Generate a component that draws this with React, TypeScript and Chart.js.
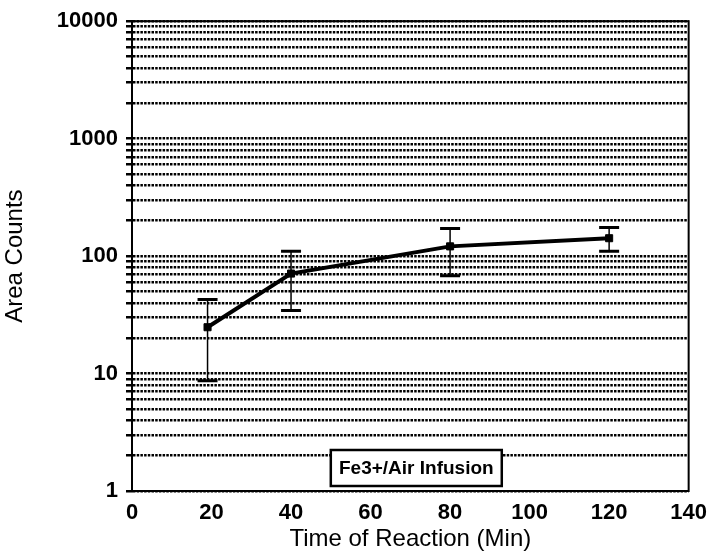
import React, { useEffect, useRef } from "react";
import { Chart, registerables } from "chart.js";

Chart.register(...registerables);

// ---- data ----
const seriesLabel = "Fe3+/Air Infusion";
const timeMin = [19, 40, 80, 120];
const areaCounts = [24.8, 71, 121, 142];
const errUpper = [42.7, 110, 172, 175];
const errLower = [8.7, 34.5, 68, 110];

const xTickValues = [0, 20, 40, 60, 80, 100, 120, 140];
const yLabelValues = [1, 10, 100, 1000, 10000];
const yGridValues = [
  1, 2, 3, 4, 5, 6, 7, 8, 9,
  10, 20, 30, 40, 50, 60, 70, 80, 90,
  100, 200, 300, 400, 500, 600, 700, 800, 900,
  1000, 2000, 3000, 4000, 5000, 6000, 7000, 8000, 9000,
  10000,
];
const xTitle = "Time of Reaction (Min)";
const yTitle = "Area Counts";

const FONT = "'Liberation Sans', Arial, Helvetica, sans-serif";

const errorBarPlugin = {
  id: "errorBars",
  afterDatasetsDraw(chart: any) {
    const { ctx } = chart;
    const xs = chart.scales.x;
    const ys = chart.scales.y;
    ctx.save();
    ctx.strokeStyle = "#000";
    for (let i = 0; i < timeMin.length; i++) {
      const px = xs.getPixelForValue(timeMin[i]);
      const pTop = ys.getPixelForValue(errUpper[i]);
      const pBot = ys.getPixelForValue(errLower[i]);
      ctx.lineWidth = 1.5;
      ctx.beginPath();
      ctx.moveTo(px, pTop);
      ctx.lineTo(px, pBot);
      ctx.stroke();
      ctx.lineWidth = 3;
      ctx.beginPath();
      ctx.moveTo(px - 10, pTop);
      ctx.lineTo(px + 10, pTop);
      ctx.moveTo(px - 10, pBot);
      ctx.lineTo(px + 10, pBot);
      ctx.stroke();
    }
    ctx.restore();
  },
};

const framePlugin = {
  id: "frameAndLegend",
  beforeDatasetsDraw(chart: any) {
    const { ctx, chartArea } = chart;
    ctx.save();
    ctx.strokeStyle = "#000";
    ctx.lineWidth = 2;
    ctx.strokeRect(
      chartArea.left,
      chartArea.top,
      chartArea.right - chartArea.left,
      chartArea.bottom - chartArea.top
    );
    // legend box
    const xs = chart.scales.x;
    const left = xs.getPixelForValue(50);
    const right = xs.getPixelForValue(93);
    const bottom = chartArea.bottom - 5;
    const top = bottom - 36;
    ctx.fillStyle = "#fff";
    ctx.fillRect(left, top, right - left, bottom - top);
    ctx.lineWidth = 2.5;
    ctx.strokeRect(left, top, right - left, bottom - top);
    ctx.fillStyle = "#000";
    ctx.font = `bold 19px ${FONT}`;
    ctx.textAlign = "center";
    ctx.textBaseline = "middle";
    ctx.fillText(seriesLabel, (left + right) / 2, (top + bottom) / 2 + 1);
    ctx.restore();
  },
};

export default function App() {
  const canvasRef = useRef<HTMLCanvasElement | null>(null);

  useEffect(() => {
    if (!canvasRef.current) return;
    const chart = new Chart(canvasRef.current, {
      type: "line",
      data: {
        datasets: [
          {
            label: seriesLabel,
            data: timeMin.map((t, i) => ({ x: t, y: areaCounts[i] })),
            borderColor: "#000",
            backgroundColor: "#000",
            borderWidth: 4,
            pointStyle: "rect",
            pointRadius: 5,
            pointBorderWidth: 1,
            tension: 0,
          },
        ],
      },
      options: {
        animation: false,
        responsive: false,
        maintainAspectRatio: false,
        layout: { padding: { top: 15, right: 27, left: 0, bottom: 0 } },
        plugins: {
          legend: { display: false },
          tooltip: { enabled: false },
        },
        scales: {
          x: {
            type: "linear",
            min: 0,
            max: 140,
            afterBuildTicks: (scale: any) => {
              scale.ticks = xTickValues.map((v) => ({ value: v }));
            },
            afterFit: (scale: any) => {
              scale.height = 66;
            },
            grid: { display: true, drawOnChartArea: false, drawTicks: false },
            border: { display: true, color: "#000", width: 2 },
            ticks: {
              color: "#000",
              padding: 9,
              maxRotation: 0,
              autoSkip: false,
              font: { family: FONT, size: 22, weight: "bold" },
            },
            title: {
              display: true,
              text: xTitle,
              color: "#000",
              font: { family: FONT, size: 24, weight: "normal" },
              padding: { top: 0, bottom: 3 },
            },
          },
          y: {
            type: "logarithmic",
            min: 1,
            max: 10000,
            afterBuildTicks: (scale: any) => {
              scale.ticks = yGridValues.map((v) => ({
                value: v,
                major: yLabelValues.includes(v),
              }));
            },
            afterFit: (scale: any) => {
              scale.width = 132;
            },
            grid: {
              display: true,
              color: "#000",
              lineWidth: 2.5,
              tickLength: 6,
              tickColor: "#000",
              tickWidth: 2.5,
            },
            border: { display: true, color: "#000", width: 2, dash: [2.5, 1.2] },
            ticks: {
              color: "#000",
              padding: 8,
              autoSkip: false,
              font: { family: FONT, size: 22, weight: "bold" },
              callback: (value: any) =>
                yLabelValues.includes(Number(value)) ? String(value) : "",
            },
            title: {
              display: true,
              text: yTitle,
              color: "#000",
              font: { family: FONT, size: 24, weight: "normal" },
              padding: { top: 1, bottom: 0 },
            },
          },
        },
      },
      plugins: [framePlugin, errorBarPlugin],
    } as any);
    return () => chart.destroy();
  }, []);

  return (
    <div
      style={{
        position: "fixed",
        left: 0,
        top: 0,
        width: 716,
        height: 557,
        background: "#fff",
      }}
    >
      <canvas ref={canvasRef} width={716} height={557} />
    </div>
  );
}
